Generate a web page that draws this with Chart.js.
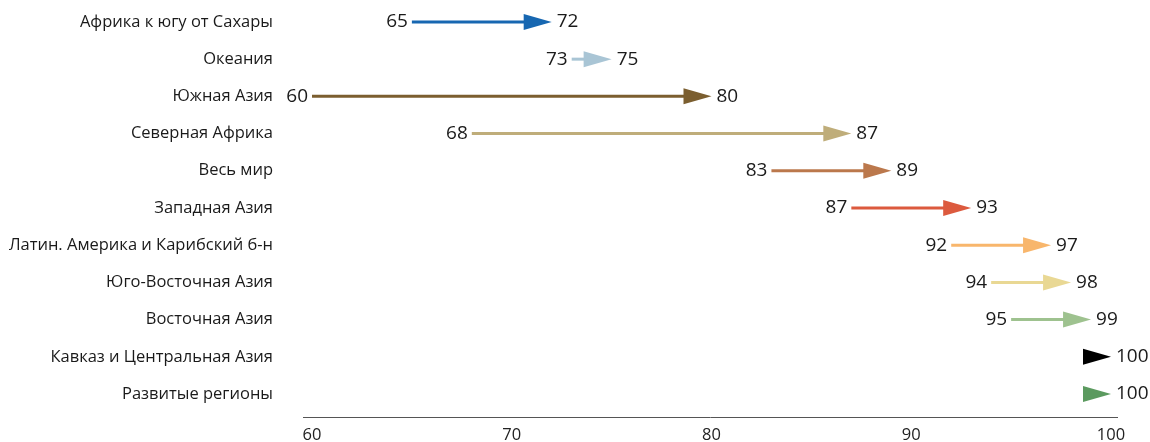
<!DOCTYPE html>
<html><head><meta charset="utf-8">
<script src="https://cdn.jsdelivr.net/npm/chart.js@4/dist/chart.umd.min.js"></script>
<style>html,body{margin:0;padding:0;background:#fff;}#wrap{width:1150px;height:442px;}</style>
</head><body><div id="wrap"><canvas id="c" width="1150" height="442"></canvas></div>
<script>
const categories = [
  'Африка к югу от Сахары',
  'Океания',
  'Южная Азия',
  'Северная Африка',
  'Весь мир',
  'Западная Азия',
  'Латин. Америка и Карибский б-н',
  'Юго-Восточная Азия',
  'Восточная Азия',
  'Кавказ и Центральная Азия',
  'Развитые регионы'
];
const startValues = [65, 73, 60, 68, 83, 87, 92, 94, 95, 100, 100];
const endValues   = [72, 75, 80, 87, 89, 93, 97, 98, 99, 100, 100];
const arrowColors = ['#1767b1', '#a9c5d5', '#7b5e2f', '#bfad7a', '#bb784c', '#dc5a3e', '#f8b66c', '#e9d894', '#9ec28f', '#000000', '#5b9a5f'];
const xTicks = [60, 70, 80, 90, 100];

const FONT = '"Open Sans", "Noto Sans", sans-serif';
const HEAD_LEN = 28, HEAD_HALF = 8, SHAFT = 3;

const arrowPlugin = {
  id: 'arrows',
  afterDatasetsDraw(chart) {
    const ctx = chart.ctx, xs = chart.scales.x, ys = chart.scales.y;
    ctx.save();
    categories.forEach((c, i) => {
      const y = ys.getPixelForValue(i);
      const x0 = xs.getPixelForValue(startValues[i]);
      const x1 = xs.getPixelForValue(endValues[i]);
      const col = arrowColors[i];
      ctx.fillStyle = col; ctx.strokeStyle = col;
      const base = x1 - HEAD_LEN;
      if (startValues[i] !== endValues[i]) {
        ctx.lineWidth = SHAFT; ctx.lineCap = 'butt';
        ctx.beginPath(); ctx.moveTo(x0, y); ctx.lineTo(base + 1, y); ctx.stroke();
      }
      ctx.beginPath();
      ctx.moveTo(x1, y); ctx.lineTo(base, y - HEAD_HALF); ctx.lineTo(base, y + HEAD_HALF);
      ctx.closePath(); ctx.fill();
      ctx.fillStyle = '#1a1a1a';
      ctx.font = '19px ' + FONT;
      ctx.textBaseline = 'middle';
      if (startValues[i] !== endValues[i]) {
        ctx.textAlign = 'right';
        ctx.fillText(String(startValues[i]), x0 - 4, y);
      }
      ctx.textAlign = 'left';
      ctx.fillText(String(endValues[i]), x1 + 5, y);
    });
    ctx.restore();
  }
};

new Chart(document.getElementById('c'), {
  type: 'scatter',
  data: {
    datasets: [{
      data: categories.map((c, i) => ({ x: endValues[i], y: i })),
      pointRadius: 0,
      showLine: false
    }]
  },
  options: {
    responsive: false,
    devicePixelRatio: 1,
    animation: false,
    layout: { padding: { left: 0, right: 33, top: 0, bottom: 0 } },
    plugins: { legend: { display: false }, tooltip: { enabled: false } },
    scales: {
      x: {
        type: 'linear', min: 59.549, max: 100.3,
        afterBuildTicks: s => { s.ticks = xTicks.map(v => ({ value: v })); },
        afterFit: s => { s.paddingLeft = 0; s.paddingRight = 0; s.height = 25; },
        grid: { display: false, drawTicks: false },
        border: { display: true, color: '#555555', width: 1 },
        ticks: { color: '#222', padding: 8, maxRotation: 0, autoSkip: false, font: { family: FONT, size: 16.5 } }
      },
      y: {
        type: 'linear', reverse: true, min: -0.59, max: 10.617,
        afterBuildTicks: s => { s.ticks = categories.map((c, i) => ({ value: i })); },
        afterFit: s => { s.width = 303; s.paddingTop = 0; s.paddingBottom = 0; },
        grid: { display: false, drawTicks: false },
        border: { display: false },
        ticks: { color: '#1a1a1a', padding: 30, autoSkip: false, font: { family: FONT, size: 16.5 },
          callback: v => categories[v] }
      }
    }
  },
  plugins: [arrowPlugin]
});
</script>
</body></html>
